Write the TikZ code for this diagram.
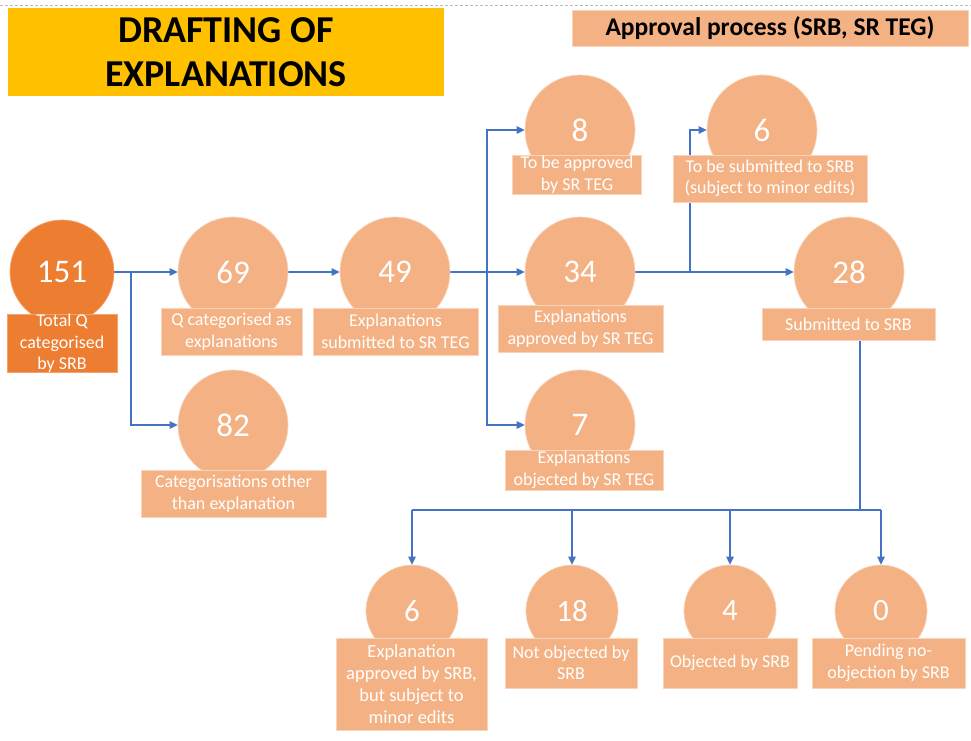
\documentclass[tikz,border=0pt]{standalone}
\usepackage{fontspec}
\setmainfont{Carlito}
\usetikzlibrary{arrows.meta}
\definecolor{lorange}{HTML}{F4B183}
\definecolor{dorange}{HTML}{ED7D31}
\definecolor{gold}{HTML}{FFC000}
\definecolor{conn}{HTML}{4472C4}
\pgfdeclarelayer{bglayer}
\pgfdeclarelayer{connlayer}
\pgfsetlayers{bglayer,connlayer,main}
\begin{document}
\begin{tikzpicture}[x=1pt,y=-1pt,
  circ/.style={circle, fill=lorange, draw=lorange!55!white, line width=0.7pt, minimum size=110pt, inner sep=0pt, text=white, font=\fontsize{33}{36}\selectfont},
  scirc/.style={circ, minimum size=92pt, font=\fontsize{31}{34}\selectfont},
  lbox/.style={rectangle, fill=lorange, draw=lorange!55!white, line width=0.7pt, inner sep=0pt, text=white, align=center, font=\fontsize{18}{21.5}\selectfont},
  line/.style={draw=conn, line width=1.1pt},
  arr/.style={line, -{Triangle[length=8pt,width=7.5pt]}},
  bus/.style={draw=conn, line width=2.2pt}
]
\useasboundingbox (0,0) rectangle (971,740);
\begin{pgfonlayer}{bglayer}
\fill[white] (0,0) rectangle (971,740);
\end{pgfonlayer}
\draw[gray!55, line width=0.6pt, dash pattern=on 3pt off 2pt] (0,5) -- (971,5);

% headers
\node[fill=gold, minimum width=436pt, minimum height=88pt, inner sep=0pt, align=center, font=\fontsize{38}{44}\selectfont\bfseries] (title) at (226,52) {DRAFTING OF\\EXPLANATIONS};
\node[fill=lorange, draw=lorange!55!white, minimum width=396pt, minimum height=36pt, inner sep=0pt, font=\fontsize{25.5}{28}\selectfont\bfseries] (appr) at (770,28) {Approval process (SRB, SR TEG)};

% circles
\node[circ, fill=dorange, draw=dorange!70!white, minimum size=104pt] (n151) at (62,272) {151};
\node[circ] (n69) at (233,272) {69};
\node[circ] (n49) at (395,272) {49};
\node[circ] (n34) at (580,272) {34};
\node[circ] (n8) at (580,130) {8};
\node[circ] (n6a) at (762,130) {6};
\node[circ] (n28) at (849,272) {28};
\node[circ] (n82) at (233,425) {82};
\node[circ] (n7) at (580,425) {7};
\node[scirc] (n6b) at (412,611) {6};
\node[scirc] (n18) at (572,611) {18};
\node[scirc] (n4) at (730,611) {4};
\node[scirc] (n0) at (881,611) {0};

% label boxes
\node[lbox, fill=dorange, draw=dorange!70!white, minimum width=110pt, minimum height=57pt] (b151) at (62,343.5) {Total Q\\categorised\\by SRB};
\node[lbox, minimum width=141pt, minimum height=47pt] (b69) at (231.5,331.5) {Q categorised as\\explanations};
\node[lbox, minimum width=165pt, minimum height=47pt] (b49) at (395.5,331.5) {Explanations\\submitted to SR TEG};
\node[lbox, minimum width=165pt, minimum height=47pt] (b34) at (580.5,328.5) {Explanations\\approved by SR TEG};
\node[lbox, minimum width=129pt, minimum height=39pt] (b8) at (577,174.5) {To be approved\\by SR TEG};
\node[lbox, minimum width=194pt, minimum height=47pt] (b6a) at (770,178.5) {To be submitted to SRB\\(subject to minor edits)};
\node[lbox, minimum width=173pt, minimum height=32pt] (b28) at (848.5,324) {Submitted to SRB};
\node[lbox, minimum width=185pt, minimum height=47pt] (b82) at (233.5,493.5) {Categorisations other\\than explanation};
\node[lbox, minimum width=158pt, minimum height=40pt] (b7) at (584,470) {Explanations\\objected by SR TEG};
\node[lbox, minimum width=151pt, minimum height=92pt, font=\fontsize{18.5}{21.8}\selectfont] (b6b) at (411.5,684) {Explanation\\approved by SRB,\\but subject to\\minor edits};
\node[lbox, minimum width=132pt, minimum height=50pt] (b18) at (571,663) {Not objected by\\SRB};
\node[lbox, minimum width=134pt, minimum height=50pt] (b4) at (730,663) {Objected by SRB};
\node[lbox, minimum width=153pt, minimum height=50pt] (b0) at (888.5,663) {Pending no-\\objection by SRB};

% junctions
\coordinate (j1) at (131,272);
\coordinate (j2) at (487,272);
\coordinate (j3) at (690,272);
\coordinate (j4) at (860,510);

% connectors (behind the boxes)
\begin{pgfonlayer}{connlayer}
\draw[arr] (n151) -- (n69);
\draw[arr] (j1) |- (n82.west);
\draw[arr] (n69) -- (n49);
\draw[arr] (n49) -- (n34);
\draw[arr] (j2) |- (n8.west);
\draw[arr] (j2) |- (n7.west);
\draw[arr] (n34) -- (n28);
\draw[arr] (j3) |- (n6a.west);
\draw[bus] (j4 |- b28.south) -- (j4);
\draw[line] (n6b |- j4) -- (n0 |- j4);
\draw[arr] (n6b |- j4) -- (n6b.north);
\draw[arr] (n18 |- j4) -- (n18.north);
\draw[arr] (n4 |- j4) -- (n4.north);
\draw[arr] (n0 |- j4) -- (n0.north);
\end{pgfonlayer}
\end{tikzpicture}
\end{document}
